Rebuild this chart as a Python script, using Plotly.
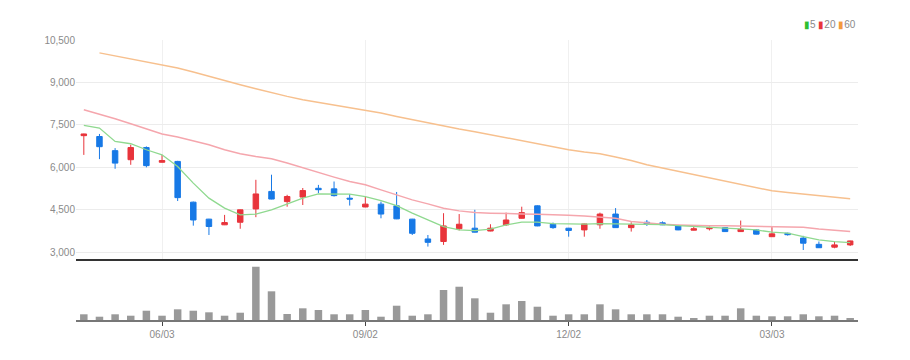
import plotly.graph_objects as go

week = list(range(50))
tick_pos = [5, 18, 31, 44]
tick_labels = ["06/03", "09/02", "12/02", "03/03"]
price_ticks = [3000, 4500, 6000, 7500, 9000, 10500]

opens = [7120, 7090, 6590, 6270, 6700, 6180, 6210, 4770, 4170, 3970,
         4060, 4530, 5150, 4790, 4950, 5260, 5240, 4910, 4600, 4700,
         4640, 4170, 3470, 3380, 3830, 3850, 3750, 3970, 4200, 4640,
         3990, 3850, 3790, 3970, 4350, 3870, 4060, 4040, 3930, 3780,
         3830, 3870, 3730, 3790, 3550, 3670, 3500, 3280, 3180, 3260]
highs = [7190, 7180, 6680, 6800, 6740, 6440, 6230, 4790, 4180, 4320,
         4510, 5560, 5740, 5030, 5270, 5380, 5500, 5050, 4970, 4790,
         5130, 4180, 3610, 4380, 4350, 4500, 3990, 4400, 4610, 4660,
         4050, 3860, 4010, 4400, 4560, 4060, 4140, 4090, 3970, 3910,
         3910, 3890, 4120, 3820, 3890, 3690, 3580, 3380, 3380, 3410]
lows = [6440, 6290, 5950, 6090, 6000, 6170, 4810, 3940, 3610, 3960,
        3830, 4240, 4870, 4610, 4670, 5090, 4970, 4650, 4590, 4200,
        4170, 3610, 3200, 3260, 3770, 3700, 3740, 3930, 4190, 3920,
        3830, 3550, 3550, 3830, 3860, 3730, 3930, 3960, 3780, 3770,
        3770, 3720, 3720, 3630, 3540, 3590, 3080, 3150, 3140, 3220]
closes = [7180, 6730, 6150, 6700, 6060, 6240, 4930, 4140, 3910, 4050,
          4500, 5060, 4880, 4970, 5180, 5210, 5000, 4880, 4700, 4350,
          4180, 3670, 3350, 3930, 3990, 3710, 3850, 4140, 4400, 3930,
          3870, 3770, 4000, 4350, 3870, 3970, 3990, 3970, 3790, 3830,
          3870, 3730, 3810, 3640, 3650, 3620, 3320, 3160, 3260, 3400]

ma5 = [7480, 7390, 6915, 6834, 6622, 6444, 6030, 5443, 4912, 4558,
       4320, 4345, 4497, 4699, 4912, 5064, 5064, 5053, 4968, 4827,
       4650, 4381, 4143, 3906, 3789, 3765, 3814, 3966, 4062, 4062,
       4015, 3991, 3991, 4012, 4002, 4002, 3991, 3977, 3942, 3906,
       3885, 3850, 3825, 3789, 3708, 3673, 3552, 3435, 3375, 3340]
ma20 = [8037, 7885, 7719, 7542, 7354, 7177, 7071, 6940, 6798, 6621,
        6480, 6384, 6303, 6151, 5985, 5797, 5655, 5499, 5382, 5205,
        5028, 4851, 4710, 4558, 4462, 4402, 4381, 4381, 4356, 4340,
        4330, 4310, 4280, 4239, 4204, 4083, 4027, 3991, 3966, 3942,
        3935, 3935, 3930, 3925, 3920, 3906, 3885, 3825, 3765, 3730]
ma60 = [None, 10045, 9940, 9844, 9738, 9630, 9514, 9372, 9216, 9064,
        8922, 8781, 8640, 8508, 8391, 8296, 8214, 8133, 8037, 7920,
        7800, 7683, 7566, 7446, 7354, 7259, 7152, 7036, 6940, 6834,
        6738, 6621, 6540, 6480, 6363, 6243, 6090, 5973, 5853, 5736,
        5620, 5500, 5382, 5266, 5170, 5110, 5053, 4993, 4933, 4887]
volume = [57, 33, 57, 43, 93, 43, 107, 93, 77, 43,
          73, 533, 287, 60, 117, 100, 57, 57, 100, 33,
          143, 43, 57, 300, 333, 217, 73, 157, 190, 133,
          43, 57, 57, 157, 107, 57, 57, 57, 33, 20,
          43, 43, 117, 43, 37, 37, 57, 37, 43, 20]

RED = "#e8343b"
BLUE = "#1779e6"
GRAY_TXT = "#8a8a8a"
FONT = "Liberation Sans Narrow, Liberation Sans, sans-serif"

fig = go.Figure()
fig.add_trace(go.Candlestick(
    x=week, open=opens, high=highs, low=lows, close=closes,
    xaxis="x2", yaxis="y2", whiskerwidth=0,
    increasing=dict(line=dict(color=RED, width=1), fillcolor=RED),
    decreasing=dict(line=dict(color=BLUE, width=1), fillcolor=BLUE),
    showlegend=False))
fig.add_trace(go.Scatter(x=week, y=ma60, mode="lines", xaxis="x2", yaxis="y2",
                         line=dict(color="#f7c08e", width=1.5), showlegend=False))
fig.add_trace(go.Scatter(x=week, y=ma20, mode="lines", xaxis="x2", yaxis="y2",
                         line=dict(color="#f5a6ad", width=1.5), showlegend=False))
fig.add_trace(go.Scatter(x=week, y=ma5, mode="lines", xaxis="x2", yaxis="y2",
                         line=dict(color="#8fd98f", width=1.3), showlegend=False))
fig.add_trace(go.Bar(x=week, y=volume, xaxis="x", yaxis="y",
                     marker=dict(color="#999999", line=dict(width=0)), showlegend=False))

fig.update_layout(
    width=902, height=352,
    margin=dict(l=68, r=52, t=32, b=40),
    paper_bgcolor="white", plot_bgcolor="white",
    boxgap=0.5, bargap=0.52,
    font=dict(family=FONT, size=10, color=GRAY_TXT),
    xaxis=dict(domain=[0, 1], anchor="y", range=[-0.5, 49.5],
               tickmode="array", tickvals=tick_pos, ticktext=tick_labels,
               ticks="outside", ticklen=4, tickcolor="#444", tickwidth=1,
               showline=True, linecolor="#777777", linewidth=2,
               showgrid=False, zeroline=False,
               tickfont=dict(family=FONT, size=10, color=GRAY_TXT),
               rangeslider=dict(visible=False)),
    yaxis=dict(domain=[0, 0.207], range=[0, 580], showticklabels=False,
               showgrid=False, zeroline=False),
    xaxis2=dict(domain=[0, 1], anchor="y2", range=[-0.5, 49.5], matches="x",
                tickmode="array", tickvals=tick_pos, showticklabels=False,
                showgrid=True, gridcolor="#f0f0f0", zeroline=False,
                showline=True, linecolor="#333333", linewidth=2, ticks="",
                rangeslider=dict(visible=False)),
    yaxis2=dict(domain=[0.218, 1], range=[2763, 10500],
                tickmode="array", tickvals=price_ticks, tickformat=",d",
                showgrid=True, gridcolor="#ececec", zeroline=False,
                tickfont=dict(family=FONT, size=10, color=GRAY_TXT)),
    annotations=[dict(
        xref="paper", yref="paper", x=1.0, y=1.054, xanchor="right", yanchor="middle",
        showarrow=False,
        text="<span style='color:#2fbf2f'>▮</span>5 <span style='color:#e8343b'>▮</span>20 <span style='color:#f39a3c'>▮</span>60",
        font=dict(family=FONT, size=10, color=GRAY_TXT))],
)

fig.write_html("out.html")
